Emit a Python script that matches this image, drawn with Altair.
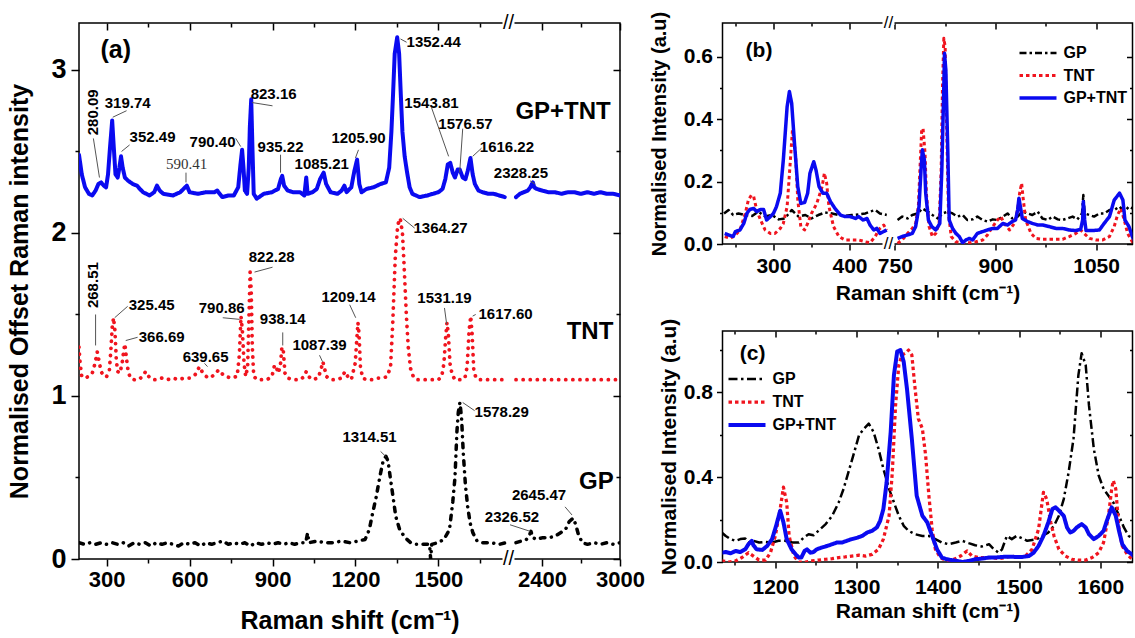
import altair as alt
import pandas as pd

FONT = "Liberation Sans"
SERIES = ["GP", "TNT", "GP+TNT"]
COLORS = ["#000000", "#f0141e", "#0a0af0"]

# ---------------- panel (a): offset Raman spectra ----------------
A_GP_X = [200, 220, 240, 260, 280, 300, 320, 340, 360, 380, 400, 420, 440, 460, 480, 500, 520, 540, 560, 580,
          600, 620, 640, 660, 680, 700, 720, 740, 760, 780, 800, 820, 840, 860, 880, 900, 920, 940, 960, 980,
          1000, 1020, 1027, 1032, 1060, 1090, 1120, 1150, 1180, 1210, 1235, 1250, 1262, 1275, 1290, 1300, 1310,
          1318, 1326, 1336, 1346, 1360, 1380, 1400, 1420, 1445, 1468, 1472, 1476, 1498, 1520, 1540, 1552, 1560,
          1567, 1572, 1578, 1584, 1590, 1598, 1606, 1615, 1625, 1640, 1660, 1690, 1720, 1745,
          2200, 2240, 2280, 2300, 2315, 2330, 2360, 2400, 2450, 2500, 2540, 2580, 2610, 2640, 2660, 2680, 2710,
          2750, 2800, 2850, 2900, 2950, 3000]
A_GP_Y = [0.10, 0.09, 0.10, 0.09, 0.10, 0.09, 0.10, 0.09, 0.10, 0.08, 0.10, 0.09, 0.10, 0.08, 0.10, 0.09, 0.10,
          0.09, 0.08, 0.10, 0.09, 0.10, 0.08, 0.10, 0.09, 0.10, 0.11, 0.09, 0.10, 0.09, 0.10, 0.08, 0.10, 0.09,
          0.10, 0.09, 0.10, 0.09, 0.10, 0.09, 0.10, 0.10, 0.16, 0.10, 0.11, 0.10, 0.10, 0.11, 0.10, 0.11, 0.12,
          0.18, 0.28, 0.38, 0.52, 0.60, 0.63, 0.60, 0.50, 0.38, 0.26, 0.18, 0.13, 0.10, 0.09, 0.09, 0.09, 0.0,
          0.09, 0.10, 0.12, 0.18, 0.35, 0.50, 0.78, 0.90, 0.96, 0.86, 0.65, 0.45, 0.32, 0.22, 0.16, 0.11, 0.10,
          0.10, 0.09, 0.10,
          0.10, 0.11, 0.12, 0.14, 0.17, 0.13, 0.12, 0.13, 0.13, 0.14, 0.16, 0.18, 0.23, 0.25, 0.21, 0.15, 0.10,
          0.09, 0.10, 0.09, 0.10, 0.09, 0.10]
A_TNT_X = [200, 204, 210, 222, 235, 248, 258, 266, 272, 280, 290, 300, 310, 316, 320, 325, 330, 335, 340, 348,
           356, 362, 366, 371, 378, 386, 400, 415, 430, 441, 452, 466, 480, 500, 520, 540, 560, 580, 600, 620,
           636, 648, 660, 672, 690, 705, 715, 730, 750, 772, 780, 786, 791, 797, 803, 810, 815, 819, 823, 827,
           832, 845, 860, 880, 898, 906, 912, 920, 928, 934, 939, 945, 955, 975, 1000, 1015, 1022, 1030, 1045,
           1065, 1075, 1082, 1088, 1095, 1110, 1130, 1150, 1162, 1172, 1185, 1199, 1205, 1209, 1213, 1218, 1226,
           1240, 1260, 1280, 1300, 1315, 1327, 1335, 1344, 1353, 1362, 1370, 1376, 1384, 1391, 1399, 1409, 1420,
           1440, 1460, 1480, 1500, 1512, 1520, 1526, 1531, 1536, 1542, 1550, 1560, 1580, 1596, 1604, 1611, 1617,
           1622, 1628, 1636, 1650, 1700, 1740,
           2200, 2300, 2400, 2500, 2600, 2700, 2800, 2900, 3000]
A_TNT_Y = [1.30, 1.20, 1.12, 1.11, 1.12, 1.14, 1.20, 1.27, 1.22, 1.15, 1.12, 1.12, 1.16, 1.30, 1.42, 1.48, 1.40,
           1.22, 1.15, 1.14, 1.20, 1.28, 1.32, 1.24, 1.15, 1.11, 1.10, 1.10, 1.12, 1.15, 1.12, 1.10, 1.10, 1.11,
           1.10, 1.11, 1.10, 1.11, 1.11, 1.13, 1.18, 1.14, 1.12, 1.11, 1.13, 1.16, 1.14, 1.12, 1.11, 1.12, 1.25,
           1.49, 1.40, 1.20, 1.12, 1.18, 1.50, 1.76, 1.65, 1.30, 1.12, 1.10, 1.10, 1.10, 1.12, 1.18, 1.19, 1.14,
           1.18, 1.30, 1.28, 1.14, 1.11, 1.10, 1.10, 1.12, 1.15, 1.12, 1.10, 1.11, 1.16, 1.21, 1.17, 1.12, 1.10,
           1.10, 1.11, 1.15, 1.12, 1.10, 1.20, 1.35, 1.45, 1.38, 1.18, 1.11, 1.10, 1.10, 1.11, 1.11, 1.12, 1.18,
           1.45, 1.85, 2.05, 2.09, 2.00, 1.80, 1.50, 1.30, 1.17, 1.12, 1.10, 1.10, 1.10, 1.10, 1.10, 1.12, 1.20,
           1.35, 1.45, 1.38, 1.20, 1.13, 1.10, 1.10, 1.11, 1.18, 1.40, 1.49, 1.38, 1.16, 1.11, 1.10, 1.10, 1.10,
           1.10, 1.10, 1.10, 1.10, 1.10, 1.10, 1.10, 1.10, 1.10]
A_MIX_X = [200, 210, 222, 236, 248, 260, 270, 280, 290, 298, 305, 312, 320, 326, 332, 340, 346, 352, 358, 366,
           378, 395, 410, 420, 432, 455, 472, 482, 492, 505, 540, 566, 590, 600, 630, 660, 690, 700, 718, 740,
           760, 776, 784, 790, 795, 800, 808, 814, 818, 823, 827, 832, 843, 868, 898, 920, 930, 935, 942, 955,
           975, 1000, 1015, 1022, 1027, 1045, 1060, 1072, 1085, 1094, 1110, 1135, 1150, 1160, 1168, 1185, 1196,
           1206, 1214, 1222, 1240, 1265, 1290, 1310, 1322, 1330, 1336, 1342, 1351, 1358, 1364, 1370, 1378, 1386,
           1396, 1406, 1432, 1460, 1480, 1500, 1515, 1525, 1534, 1543, 1552, 1560, 1570, 1577, 1588, 1598, 1606,
           1616, 1624, 1632, 1645, 1660, 1680, 1700, 1720, 1740,
           2200, 2230, 2260, 2290, 2310, 2322, 2330, 2340, 2360, 2400, 2450, 2500, 2550, 2600, 2650, 2700, 2750,
           2800, 2850, 2900, 2950, 3000]
A_MIX_Y = [2.48, 2.36, 2.28, 2.24, 2.23, 2.26, 2.30, 2.31, 2.29, 2.28, 2.36, 2.52, 2.69, 2.52, 2.36, 2.34, 2.40,
           2.47, 2.40, 2.34, 2.32, 2.30, 2.29, 2.27, 2.25, 2.23, 2.25, 2.29, 2.26, 2.24, 2.23, 2.25, 2.29, 2.25,
           2.24, 2.25, 2.25, 2.26, 2.22, 2.23, 2.23, 2.28, 2.42, 2.51, 2.40, 2.26, 2.24, 2.40, 2.65, 2.82, 2.55,
           2.24, 2.21, 2.24, 2.25, 2.27, 2.33, 2.35, 2.29, 2.26, 2.25, 2.25, 2.23, 2.34, 2.24, 2.25, 2.27, 2.33,
           2.37, 2.30, 2.25, 2.24, 2.26, 2.29, 2.25, 2.28, 2.38, 2.45, 2.30, 2.25, 2.27, 2.28, 2.30, 2.31, 2.40,
           2.62, 2.85, 3.10, 3.20, 3.10, 2.85, 2.62, 2.47, 2.38, 2.28, 2.24, 2.22, 2.23, 2.24, 2.25, 2.27, 2.33,
           2.42, 2.43, 2.37, 2.34, 2.39, 2.39, 2.34, 2.33, 2.38, 2.46, 2.36, 2.30, 2.26, 2.25, 2.24, 2.24, 2.23,
           2.22,
           2.22, 2.24, 2.25, 2.26, 2.28, 2.30, 2.31, 2.28, 2.27, 2.26, 2.25, 2.25, 2.24, 2.25, 2.25, 2.24, 2.25,
           2.24, 2.25, 2.24, 2.24, 2.23]
A_BREAK = [1750, 2150]
A_XMAJ = [300, 600, 900, 1200, 1500, 2400, 3000]
A_XMIN = [450, 750, 1050, 1350, 1650, 2700]
A_YMAJ = [0, 1, 2, 3]
A_YMIN = [0.5, 1.5, 2.5]

# peak labels of panel (a)
A_LAB_T = ["319.74", "352.49", "790.40", "823.16", "935.22", "1085.21", "1205.90", "1352.44", "1543.81",
           "1576.57", "1616.22", "2328.25", "325.45", "366.69", "639.65", "790.86", "822.28", "938.14",
           "1087.39", "1209.14", "1364.27", "1531.19", "1617.60", "1314.51", "1578.29", "2326.52", "2645.47"]
A_LAB_X = [376, 466, 683, 904, 929, 1078, 1211, 1483, 1475, 1598, 1748, 2238, 463, 499, 658, 716, 897, 937,
           1070, 1175, 1508, 1522, 1743, 1251, 1729, 2169, 2377]
A_LAB_Y = [2.80, 2.59, 2.56, 2.85, 2.53, 2.42, 2.58, 3.17, 2.80, 2.67, 2.53, 2.37, 1.56, 1.36, 1.24, 1.54, 1.85,
           1.47, 1.31, 1.61, 2.03, 1.60, 1.50, 0.75, 0.90, 0.26, 0.39]
A_ROT_T = ["280.09", "268.51"]
A_ROT_X = [249, 249]
A_ROT_Y = [2.74, 1.68]
A_SERIF_T = ["590.41"]
A_SERIF_X = [589]
A_SERIF_Y = [2.42]
A_NAME_T = ["GP+TNT", "TNT", "GP"]
A_NAME_X = [2562, 2769, 2818]
A_NAME_Y = [2.74, 1.39, 0.47]
A_LEAD_X1 = [252, 322, 354, 587, 767, 826, 929, 1211, 1363, 1475, 1588, 1656, 2308, 260, 329, 369, 654, 720,
             835, 937, 1070, 1179, 1371, 1522, 1624, 1291, 1588, 2154, 2577]
A_LEAD_Y1 = [2.58, 2.71, 2.50, 2.37, 2.58, 2.80, 2.48, 2.51, 3.19, 2.77, 2.64, 2.52, 2.32, 1.50, 1.48, 1.34,
             1.20, 1.48, 1.76, 1.39, 1.25, 1.56, 2.09, 1.54, 1.49, 0.66, 0.96, 0.21, 0.32]
A_LEAD_X2 = [274, 372, 383, 587, 785, 900, 929, 1200, 1385, 1537, 1577, 1624, 2346, 260, 376, 412, 665, 781,
             900, 937, 1081, 1201, 1414, 1530, 1635, 1309, 1631, 2308, 2631]
A_LEAD_Y2 = [2.34, 2.75, 2.54, 2.31, 2.53, 2.78, 2.37, 2.46, 3.17, 2.47, 2.37, 2.47, 2.30, 1.31, 1.55, 1.36,
             1.18, 1.47, 1.79, 1.31, 1.21, 1.48, 2.03, 1.44, 1.50, 0.63, 0.91, 0.17, 0.27]

# ---------------- panel (b): 230-1110 cm-1 ----------------
B_GP_X = [235, 241, 247, 254, 263, 272, 280, 289, 298, 307, 315, 324, 333, 342, 350, 359, 368, 377, 386, 394,
          403, 412, 421, 427, 434, 440, 449,
          754, 761, 769, 776, 784, 791, 799, 806, 814, 821, 829, 836, 843, 851, 858, 866, 873, 881, 888, 896,
          903, 911, 918, 925, 933, 940, 948, 955, 963, 970, 978, 985, 993, 1000, 1007, 1015, 1022, 1029, 1031,
          1033, 1040, 1047, 1055, 1062, 1070, 1077, 1085, 1092, 1099, 1109]
B_GP_Y = [0.098, 0.109, 0.093, 0.098, 0.093, 0.090, 0.104, 0.088, 0.093, 0.079, 0.082, 0.109, 0.088, 0.093,
          0.082, 0.093, 0.101, 0.098, 0.093, 0.090, 0.093, 0.095, 0.098, 0.104, 0.109, 0.098, 0.093,
          0.077, 0.088, 0.082, 0.093, 0.098, 0.114, 0.104, 0.093, 0.082, 0.098, 0.104, 0.098, 0.088, 0.093,
          0.077, 0.079, 0.088, 0.077, 0.072, 0.079, 0.077, 0.088, 0.098, 0.082, 0.088, 0.104, 0.098, 0.093,
          0.104, 0.082, 0.077, 0.088, 0.079, 0.077, 0.082, 0.088, 0.079, 0.098, 0.157, 0.098, 0.093, 0.088,
          0.098, 0.098, 0.109, 0.109, 0.120, 0.104, 0.120, 0.109]
B_TNT_X = [236, 243, 250, 256, 263, 267, 271, 274, 278, 283, 289, 296, 302, 309, 313, 318, 322, 325, 329, 332,
           336, 341, 345, 350, 357, 364, 367, 370, 373, 379, 386, 394, 403, 412, 421, 427, 434, 438, 445, 449,
           754, 761, 769, 776, 781, 785, 788, 790, 792, 795, 797, 801, 806, 811, 816, 819, 821, 823, 825, 827,
           830, 834, 841, 851, 861, 871, 881, 888, 896, 903, 908, 913, 921, 928, 933, 936, 939, 941, 945, 953,
           960, 970, 980, 990, 1000, 1010, 1020, 1027, 1032, 1040, 1050, 1060, 1070, 1077, 1082, 1087, 1092,
           1097, 1104, 1109]
B_TNT_Y = [0.024, 0.018, 0.029, 0.045, 0.098, 0.141, 0.157, 0.152, 0.109, 0.077, 0.045, 0.034, 0.034, 0.050,
           0.066, 0.120, 0.259, 0.366, 0.291, 0.141, 0.056, 0.045, 0.066, 0.098, 0.130, 0.184, 0.227, 0.195,
           0.120, 0.056, 0.024, 0.013, 0.013, 0.013, 0.007, 0.004, 0.024, 0.045, 0.061, 0.045,
           0.002, 0.013, 0.034, 0.050, 0.066, 0.120, 0.270, 0.366, 0.371, 0.291, 0.163, 0.056, 0.024, 0.034,
           0.066, 0.237, 0.505, 0.660, 0.633, 0.398, 0.098, 0.024, 0.007, 0.004, 0.004, 0.007, 0.013, 0.029,
           0.056, 0.077, 0.088, 0.066, 0.045, 0.066, 0.109, 0.163, 0.195, 0.152, 0.077, 0.034, 0.018, 0.015,
           0.015, 0.015, 0.015, 0.024, 0.034, 0.045, 0.034, 0.018, 0.013, 0.013, 0.024, 0.056, 0.093, 0.114,
           0.077, 0.034, 0.007, 0.002]
B_MIX_X = [236, 241, 247, 250, 256, 261, 265, 269, 274, 278, 283, 287, 291, 296, 300, 304, 309, 313, 318, 321,
           324, 328, 332, 336, 341, 345, 348, 353, 356, 360, 365, 370, 375, 381, 388, 394, 401, 408, 412, 418,
           423, 427, 432, 436, 440, 445, 449,
           754, 761, 769, 776, 781, 786, 789, 791, 794, 796, 800, 805, 811, 817, 820, 823, 824, 826, 829, 831,
           836, 841, 846, 851, 856, 861, 866, 873, 881, 888, 896, 903, 911, 918, 925, 930, 933, 935, 938, 940,
           948, 955, 963, 970, 980, 990, 1000, 1010, 1020, 1027, 1030, 1031, 1033, 1035, 1045, 1055, 1062, 1070,
           1077, 1085, 1090, 1093, 1099, 1104, 1109]
B_MIX_Y = [0.034, 0.029, 0.024, 0.040, 0.045, 0.066, 0.098, 0.111, 0.114, 0.104, 0.111, 0.111, 0.077, 0.088,
           0.098, 0.120, 0.163, 0.270, 0.441, 0.489, 0.451, 0.312, 0.184, 0.130, 0.133, 0.163, 0.227, 0.264,
           0.237, 0.184, 0.163, 0.163, 0.136, 0.114, 0.093, 0.088, 0.088, 0.082, 0.088, 0.077, 0.082, 0.061,
           0.045, 0.050, 0.034, 0.040, 0.045,
           0.018, 0.024, 0.029, 0.034, 0.056, 0.120, 0.237, 0.302, 0.270, 0.163, 0.077, 0.056, 0.045, 0.066,
           0.237, 0.505, 0.612, 0.558, 0.291, 0.077, 0.050, 0.034, 0.024, 0.004, 0.013, 0.018, 0.013, 0.034,
           0.040, 0.045, 0.050, 0.050, 0.066, 0.061, 0.072, 0.077, 0.109, 0.147, 0.109, 0.082, 0.072, 0.066,
           0.061, 0.061, 0.056, 0.050, 0.050, 0.045, 0.043, 0.047, 0.077, 0.136, 0.077, 0.043, 0.043, 0.045,
           0.066, 0.088, 0.141, 0.163, 0.141, 0.077, 0.056, 0.024, 0.002]
B_BREAK = [450, 742]
B_XMAJ = [300, 400, 750, 900, 1050]
B_XMIN = [250, 350, 825, 975]
B_YMAJ = [0.0, 0.2, 0.4, 0.6]
B_YMIN = [0.1, 0.3, 0.5]

# ---------------- panel (c): 1135-1640 cm-1 ----------------
C_GP_X = [1134, 1139, 1145, 1151, 1157, 1163, 1167, 1173, 1180, 1188, 1196, 1204, 1212, 1221, 1229, 1235, 1241,
          1247, 1253, 1262, 1270, 1278, 1284, 1290, 1296, 1303, 1309, 1315, 1321, 1327, 1333, 1340, 1346, 1352,
          1358, 1364, 1372, 1381, 1389, 1397, 1405, 1413, 1422, 1430, 1438, 1446, 1454, 1463, 1469, 1475, 1479,
          1485, 1491, 1497, 1504, 1510, 1516, 1522, 1528, 1536, 1543, 1549, 1555, 1561, 1567, 1573, 1577, 1582,
          1586, 1592, 1598, 1604, 1610, 1616, 1623, 1629, 1635, 1641, 1643]
C_GP_Y = [0.139, 0.123, 0.108, 0.100, 0.108, 0.111, 0.092, 0.100, 0.092, 0.095, 0.092, 0.100, 0.100, 0.092,
          0.092, 0.115, 0.131, 0.126, 0.147, 0.179, 0.218, 0.281, 0.345, 0.424, 0.503, 0.598, 0.629, 0.653,
          0.613, 0.534, 0.440, 0.345, 0.281, 0.218, 0.171, 0.147, 0.131, 0.123, 0.123, 0.108, 0.092, 0.084,
          0.092, 0.100, 0.089, 0.079, 0.073, 0.084, 0.060, 0.044, 0.060, 0.123, 0.108, 0.123, 0.111, 0.100,
          0.104, 0.108, 0.123, 0.139, 0.171, 0.218, 0.297, 0.424, 0.582, 0.882, 0.985, 0.930, 0.740, 0.534,
          0.408, 0.345, 0.313, 0.281, 0.218, 0.163, 0.123, 0.108, 0.104]
C_TNT_X = [1134, 1143, 1151, 1159, 1167, 1173, 1180, 1188, 1194, 1200, 1206, 1210, 1214, 1217, 1223, 1229, 1237,
           1245, 1253, 1262, 1270, 1278, 1286, 1294, 1303, 1311, 1319, 1327, 1333, 1340, 1344, 1348, 1352, 1356,
           1360, 1364, 1368, 1372, 1376, 1381, 1385, 1389, 1393, 1397, 1403, 1411, 1420, 1428, 1436, 1442, 1450,
           1459, 1467, 1475, 1483, 1491, 1500, 1508, 1516, 1524, 1530, 1534, 1539, 1543, 1549, 1557, 1565, 1573,
           1582, 1590, 1598, 1604, 1610, 1614, 1616, 1619, 1623, 1627, 1633, 1639, 1643]
C_TNT_Y = [0.005, 0.0, 0.005, 0.021, 0.044, 0.028, 0.009, 0.009, 0.044, 0.123, 0.250, 0.353, 0.281, 0.123,
           0.028, 0.0, 0.0, 0.005, 0.009, 0.013, 0.016, 0.021, 0.024, 0.028, 0.032, 0.028, 0.036, 0.060, 0.108,
           0.218, 0.424, 0.740, 0.930, 0.977, 0.985, 1.0, 0.977, 0.819, 0.677, 0.629, 0.503, 0.313, 0.155, 0.060,
           0.021, 0.005, 0.013, 0.028, 0.052, 0.028, 0.021, 0.021, 0.021, 0.016, 0.021, 0.028, 0.021, 0.028,
           0.060, 0.155, 0.329, 0.297, 0.187, 0.123, 0.060, 0.028, 0.013, 0.009, 0.009, 0.021, 0.044, 0.092,
           0.218, 0.345, 0.384, 0.345, 0.155, 0.076, 0.036, 0.013, 0.009]
C_MIX_X = [1134, 1139, 1145, 1151, 1157, 1163, 1167, 1171, 1173, 1177, 1184, 1190, 1196, 1201, 1206, 1210, 1214,
           1220, 1225, 1229, 1232, 1236, 1239, 1243, 1247, 1251, 1257, 1264, 1270, 1276, 1282, 1288, 1294, 1301,
           1307, 1313, 1319, 1325, 1329, 1333, 1337, 1342, 1346, 1350, 1354, 1358, 1362, 1368, 1374, 1381, 1387,
           1393, 1399, 1405, 1411, 1417, 1424, 1430, 1438, 1446, 1454, 1463, 1471, 1479, 1487, 1495, 1504, 1512,
           1518, 1524, 1530, 1536, 1541, 1545, 1549, 1555, 1559, 1563, 1567, 1571, 1577, 1582, 1586, 1592, 1598,
           1604, 1608, 1614, 1619, 1623, 1627, 1633, 1639, 1643]
C_MIX_Y = [0.044, 0.047, 0.041, 0.052, 0.047, 0.060, 0.084, 0.100, 0.079, 0.060, 0.057, 0.076, 0.108, 0.171,
           0.242, 0.187, 0.108, 0.060, 0.036, 0.021, 0.021, 0.052, 0.060, 0.044, 0.047, 0.060, 0.068, 0.076,
           0.084, 0.092, 0.092, 0.100, 0.108, 0.115, 0.123, 0.139, 0.147, 0.163, 0.194, 0.250, 0.376, 0.613,
           0.882, 0.993, 1.0, 0.945, 0.819, 0.582, 0.313, 0.218, 0.187, 0.123, 0.060, 0.021, 0.013, 0.009, 0.005,
           0.0, 0.005, 0.013, 0.016, 0.021, 0.021, 0.024, 0.025, 0.024, 0.024, 0.028, 0.044, 0.076, 0.123, 0.187,
           0.250, 0.258, 0.242, 0.218, 0.163, 0.139, 0.147, 0.163, 0.179, 0.163, 0.131, 0.108, 0.123, 0.147,
           0.194, 0.258, 0.218, 0.147, 0.084, 0.052, 0.036, 0.021]
C_XMAJ = [1200, 1300, 1400, 1500, 1600]
C_XMIN = [1150, 1250, 1350, 1450, 1550]
C_YMAJ = [0.0, 0.4, 0.8]
C_YMIN = [0.2, 0.6, 1.0]

XTITLE = "Raman shift (cm\u207b\u00b9)"
YTITLE_B = "Normalised Intensity (a.u)"


def make_df(xs_list, ys_list, brk):
    rows = []
    for name, xs, ys in zip(SERIES, xs_list, ys_list):
        for x, y in zip(xs, ys):
            seg = "R" if (brk is not None and x > brk) else "L"
            rows.append({"series": name, "x": x, "y": y, "seg": seg})
    return pd.DataFrame(rows)


def ax(orient, values, size, labels=False, lsize=20, lpad=4, fmt=None, title=None, tsize=20, tpad=8):
    kw = dict(orient=orient, values=values, tickSize=size, tickWidth=1.5, tickColor="black",
              domain=False, grid=False, labels=labels)
    if orient in ("top", "right"):
        kw["offset"] = -size
    if labels:
        kw.update(labelFont=FONT, labelFontSize=lsize, labelFontWeight="bold", labelColor="black",
                  labelPadding=lpad, labelFlush=False, labelOverlap=False)
        if fmt:
            kw["format"] = fmt
    if title:
        kw.update(title=title, titleFont=FONT, titleFontSize=tsize, titleFontWeight="bold",
                  titleColor="black", titlePadding=tpad)
    else:
        kw["title"] = None
    return alt.Axis(**kw)


def text_layer(xs, ys, texts, xsc, ysc, **mk):
    d = pd.DataFrame({"x": xs, "y": ys, "t": texts})
    return alt.Chart(d).mark_text(**mk).encode(
        x=alt.X("x:Q", scale=xsc, axis=None), y=alt.Y("y:Q", scale=ysc, axis=None), text="t:N")


def rule_layer(x1, y1, x2, y2, xsc, ysc):
    d = pd.DataFrame({"x": x1, "y": y1, "x2": x2, "y2": y2})
    return alt.Chart(d).mark_rule(color="#555555", strokeWidth=1).encode(
        x=alt.X("x:Q", scale=xsc, axis=None), y=alt.Y("y:Q", scale=ysc, axis=None), x2="x2:Q", y2="y2:Q")


def break_layers(brk, h, xsc, fs):
    d = pd.DataFrame({"x0": [brk[0]], "x1": [brk[1]]})
    base = alt.Chart(d)
    out = []
    for yy in (0, h):
        out.append(base.mark_rect(color="white", xOffset=-5, x2Offset=5).encode(
            x=alt.X("x0:Q", scale=xsc, axis=None), x2="x1:Q", y=alt.value(yy - 2), y2=alt.value(yy + 2)))
        out.append(base.mark_text(text="//", font=FONT, fontSize=fs, color="black", dx=1).encode(
            x=alt.X("x0:Q", scale=xsc, axis=None), y=alt.value(yy)))
    return out


def legend(lx, ly, rp):
    return alt.Legend(orient="none", legendX=lx, legendY=ly, title=None, symbolType="stroke",
                      symbolStrokeWidth=3, symbolSize=1369, labelFont=FONT, labelFontSize=16,
                      labelFontWeight="bold", labelColor="black", labelOffset=5, rowPadding=rp, padding=0,
                      clipHeight=16)


def panel(df, xsc, ysc, w, h, xmaj, xmin, ymaj, ymin, xaxis, yaxis, dashes, widths, leg, extra, tk, tk2,
          cap):
    cscale = alt.Scale(domain=SERIES, range=COLORS)
    dscale = alt.Scale(domain=SERIES, range=dashes)
    wscale = alt.Scale(domain=SERIES, range=widths)
    lines = alt.Chart(df).mark_line(clip=True, strokeJoin="round", strokeCap=cap).encode(
        x=alt.X("x:Q", scale=xsc, axis=xaxis),
        y=alt.Y("y:Q", scale=ysc, axis=yaxis),
        color=alt.Color("series:N", scale=cscale, legend=leg),
        strokeDash=alt.StrokeDash("series:N", scale=dscale, legend=leg),
        strokeWidth=alt.StrokeWidth("series:N", scale=wscale, legend=None),
        detail="seg:N",
    )
    one = df.iloc[[0]]
    base = alt.Chart(one).mark_point(opacity=0)
    l2 = base.encode(x=alt.X("x:Q", scale=xsc, axis=ax("bottom", xmin, tk2)),
                     y=alt.Y("y:Q", scale=ysc, axis=ax("left", ymin, tk2)))
    l3 = base.encode(x=alt.X("x:Q", scale=xsc, axis=ax("top", xmaj, tk)),
                     y=alt.Y("y:Q", scale=ysc, axis=ax("right", ymaj, tk)))
    l4 = base.encode(x=alt.X("x:Q", scale=xsc, axis=ax("top", xmin, tk2)),
                     y=alt.Y("y:Q", scale=ysc, axis=ax("right", ymin, tk2)))
    return alt.layer(lines, l2, l3, l4, *extra).resolve_axis(x="independent", y="independent").properties(
        width=w, height=h)


# ---------- panel (a) ----------
A_W, A_H = 541, 536
xa = alt.Scale(domain=[200, A_BREAK[0], A_BREAK[1], 3000], range=[0, 428.5, 430.5, A_W], nice=False)
ya = alt.Scale(domain=[0, 3.288], nice=False, zero=False)
df_a = make_df([A_GP_X, A_TNT_X, A_MIX_X], [A_GP_Y, A_TNT_Y, A_MIX_Y], 2000)
extra_a = [
    rule_layer(A_LEAD_X1, A_LEAD_Y1, A_LEAD_X2, A_LEAD_Y2, xa, ya),
    text_layer(A_LAB_X, A_LAB_Y, A_LAB_T, xa, ya, font=FONT, fontSize=15, fontWeight="bold", color="black"),
    text_layer(A_ROT_X, A_ROT_Y, A_ROT_T, xa, ya, font=FONT, fontSize=15, fontWeight="bold", color="black",
               angle=270),
    text_layer(A_SERIF_X, A_SERIF_Y, A_SERIF_T, xa, ya, font="Liberation Serif", fontSize=15, color="#333333"),
    text_layer(A_NAME_X, A_NAME_Y, A_NAME_T, xa, ya, font=FONT, fontSize=24, fontWeight="bold", color="black"),
    text_layer([333], [3.12], ["(a)"], xa, ya, font=FONT, fontSize=25, fontWeight="bold", color="black"),
] + break_layers(A_BREAK, A_H, xa, 20)
pa = panel(df_a, xa, ya, A_W, A_H, A_XMAJ, A_XMIN, A_YMAJ, A_YMIN,
           ax("bottom", A_XMAJ, 7, labels=True, lsize=22, lpad=3, fmt="d", title=XTITLE, tsize=25, tpad=18),
           ax("left", A_YMAJ, 8, labels=True, lsize=27, lpad=5, title="Normalised Offset Raman intensity",
              tsize=25, tpad=18),
           [[4.5, 6.5, 0.1, 6.5], [0.1, 7], [1, 0]], [3.5, 4, 3], None, extra_a, 7, 4, "round")

# ---------- panel (b) ----------
B_W, B_H = 410, 221
xb = alt.Scale(domain=[233, B_BREAK[0], B_BREAK[1], 1104.3], range=[0, 165, 167, B_W], nice=False)
yb = alt.Scale(domain=[0, 0.709], nice=False, zero=False)
df_b = make_df([B_GP_X, B_TNT_X, B_MIX_X], [B_GP_Y, B_TNT_Y, B_MIX_Y], 600)
extra_b = [text_layer([281], [0.62], ["(b)"], xb, yb, font=FONT, fontSize=21, fontWeight="bold",
                      color="black")] + break_layers(B_BREAK, B_H, xb, 17)
pb = panel(df_b, xb, yb, B_W, B_H, B_XMAJ, B_XMIN, B_YMAJ, B_YMIN,
           ax("bottom", B_XMAJ, 6, labels=True, lsize=21, lpad=5, fmt="d", title=XTITLE, tsize=21, tpad=6),
           ax("left", B_YMAJ, 6, labels=True, lsize=21, lpad=4, fmt=".1f", title=YTITLE_B, tsize=20, tpad=14),
           [[7, 3, 2.5, 3], [3.5, 3], [1, 0]], [2.5, 3.5, 2], legend(295, 22, 6.5), extra_b, 6, 3, "butt")

# ---------- panel (c) ----------
C_W, C_H = 410, 231
xc = alt.Scale(domain=[1135, 1639.6], nice=False, zero=False)
yc = alt.Scale(domain=[0, 1.09], nice=False, zero=False)
df_c = make_df([C_GP_X, C_TNT_X, C_MIX_X], [C_GP_Y, C_TNT_Y, C_MIX_Y], None)
extra_c = [text_layer([1172], [0.98], ["(c)"], xc, yc, font=FONT, fontSize=21, fontWeight="bold",
                      color="black")]
pc = panel(df_c, xc, yc, C_W, C_H, C_XMAJ, C_XMIN, C_YMAJ, C_YMIN,
           ax("bottom", C_XMAJ, 6, labels=True, lsize=21, lpad=8, fmt="d", title=XTITLE, tsize=21, tpad=3),
           ax("left", C_YMAJ, 6, labels=True, lsize=21, lpad=4, fmt=".1f", title=YTITLE_B, tsize=21, tpad=4),
           [[9, 3.5, 2.5, 3.5], [3.5, 3], [1, 0]], [2.5, 4, 3], legend(4, 40, 7), extra_c, 6, 3, "butt")

right = alt.vconcat(pb, pc, spacing=13).resolve_scale(
    color="independent", strokeDash="independent", strokeWidth="independent")
chart = alt.hconcat(pa, right, spacing=2.5).resolve_scale(
    color="independent", strokeDash="independent", strokeWidth="independent")
chart = chart.properties(padding={"left": 7, "top": 10, "right": 0, "bottom": 0}, background="white")
chart = chart.configure_view(stroke="black", strokeWidth=1.5)

chart.save("out.html", embed_options={"renderer": "svg", "actions": False})
